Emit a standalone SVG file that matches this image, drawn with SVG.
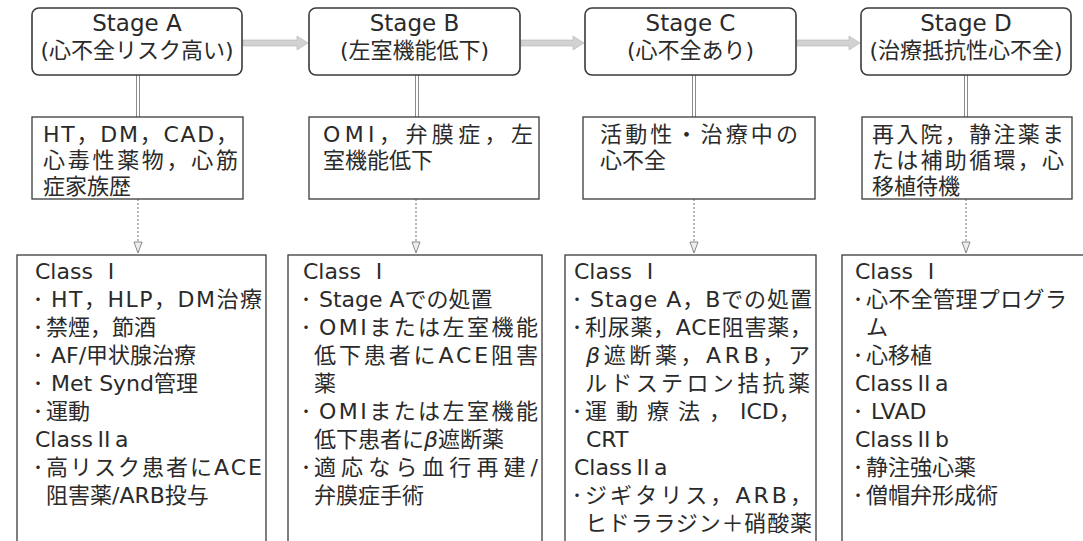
<svg xmlns="http://www.w3.org/2000/svg" width="1083" height="541" viewBox="0 0 1083 541">
<style>
.stage{fill:#fff;stroke:#3a3a3a;stroke-width:1.6}
.box{fill:#fff;stroke:#3a3a3a;stroke-width:1.3}
text{font-family:'DejaVu Sans','Noto Sans CJK JP',sans-serif;fill:#2a2a2a}
.t1{font-size:23px;text-anchor:middle}
.t2{font-size:22px;text-anchor:middle}
.m{font-size:22px}
.b{font-size:22px}
.d{font-size:16px;font-family:'Noto Sans CJK JP',sans-serif}
.j{font-family:'Noto Sans CJK JP',sans-serif}
.it{font-style:italic}
.harrow{fill:#d2d2d2;stroke:#b4b4b4;stroke-width:0.6}
.dbl{stroke:#8a8a8a;stroke-width:1;fill:none}
.dash{stroke:#8a8a8a;stroke-width:1.2;stroke-dasharray:2 2;fill:none}
.head{fill:#eee;stroke:#888;stroke-width:1}
</style>
<rect x="0" y="0" width="1083" height="541" fill="#fff"/>

<g id="connectors">
  <polygon class="harrow" points="243,40 297,40 297,36 308,43 297,50 297,46 243,46"/>
  <polygon class="harrow" points="521,40 573,40 573,36 584,43 573,50 573,46 521,46"/>
  <polygon class="harrow" points="797,40 849,40 849,36 860,43 849,50 849,46 797,46"/>
  <path class="dbl" d="M136.5,75 V117 M139.5,75 V117"/>
  <path class="dbl" d="M415.5,75 V117 M418.5,75 V117"/>
  <path class="dbl" d="M692.5,75 V117 M695.5,75 V117"/>
  <path class="dbl" d="M964.5,75 V117 M967.5,75 V117"/>
  <path class="dash" d="M138,199 V243"/>
  <path class="dash" d="M416,199 V243"/>
  <path class="dash" d="M694,199 V243"/>
  <path class="dash" d="M966,199 V243"/>
  <polygon class="head" points="134,242 142,242 138,253"/>
  <polygon class="head" points="412,242 420,242 416,253"/>
  <polygon class="head" points="690,242 698,242 694,253"/>
  <polygon class="head" points="962,242 970,242 966,253"/>
</g>

<g id="stageA">
  <rect class="stage" x="32" y="8" width="210" height="67" rx="7"/>
  <text class="t1" x="137" y="31">Stage A</text>
  <text class="t2" x="137" y="58">(心不全リスク高い)</text>
</g>
<g id="stageB">
  <rect class="stage" x="309" y="8" width="211" height="67" rx="7"/>
  <text class="t1" x="414.5" y="31">Stage B</text>
  <text class="t2" x="414.5" y="58">(左室機能低下)</text>
</g>
<g id="stageC">
  <rect class="stage" x="585" y="8" width="211" height="67" rx="7"/>
  <text class="t1" x="690.5" y="31">Stage C</text>
  <text class="t2" x="690.5" y="58">(心不全あり)</text>
</g>
<g id="stageD">
  <rect class="stage" x="861" y="8" width="210" height="67" rx="7"/>
  <text class="t1" x="966" y="31">Stage D</text>
  <text class="t2" x="966" y="58">(治療抵抗性心不全)</text>
</g>

<g id="condA">
  <rect class="box" x="32" y="117" width="211" height="82"/>
  <text class="m" x="43" y="142" textLength="195" lengthAdjust="spacing">HT，DM，CAD，</text>
  <text class="m" x="43" y="168" textLength="195" lengthAdjust="spacing">心毒性薬物，心筋</text>
  <text class="m" x="43" y="194">症家族歴</text>
</g>
<g id="condB">
  <rect class="box" x="309" y="117" width="230" height="82"/>
  <text class="m" x="323" y="142" textLength="210" lengthAdjust="spacing">OMI，弁膜症，左</text>
  <text class="m" x="323" y="168">室機能低下</text>
</g>
<g id="condC">
  <rect class="box" x="583" y="117" width="232" height="82"/>
  <text class="m" x="600" y="142" textLength="198" lengthAdjust="spacing">活動性・治療中の</text>
  <text class="m" x="600" y="168">心不全</text>
</g>
<g id="condD">
  <rect class="box" x="862" y="117" width="210" height="82"/>
  <text class="m" x="872" y="142" textLength="192" lengthAdjust="spacing">再入院，静注薬ま</text>
  <text class="m" x="872" y="168" textLength="192" lengthAdjust="spacing">たは補助循環，心</text>
  <text class="m" x="872" y="194">移植待機</text>
</g>

<g id="therA">
  <rect class="box" x="17" y="255" width="249" height="300"/>
  <text class="b" x="35" y="279">Class <tspan class="j">Ⅰ</tspan></text>
  <text class="d" x="30" y="305">・</text>
  <text class="b" x="51" y="307" textLength="211" lengthAdjust="spacing">HT，HLP，DM治療</text>
  <text class="d" x="30" y="333">・</text>
  <text class="b" x="46" y="335">禁煙，節酒</text>
  <text class="d" x="30" y="361">・</text>
  <text class="b" x="51" y="363">AF/甲状腺治療</text>
  <text class="d" x="30" y="389">・</text>
  <text class="b" x="51" y="391">Met Synd管理</text>
  <text class="d" x="30" y="417">・</text>
  <text class="b" x="46" y="419">運動</text>
  <text class="b" x="35" y="447">Class<tspan class="j">Ⅱ</tspan>a</text>
  <text class="d" x="30" y="473">・</text>
  <text class="b" x="46" y="475" textLength="216" lengthAdjust="spacing">高リスク患者にACE</text>
  <text class="b" x="46" y="503">阻害薬/ARB投与</text>
</g>
<g id="therB">
  <rect class="box" x="288" y="255" width="254" height="300"/>
  <text class="b" x="303" y="279">Class <tspan class="j">Ⅰ</tspan></text>
  <text class="d" x="298" y="305">・</text>
  <text class="b" x="319" y="307">Stage Aでの処置</text>
  <text class="d" x="298" y="333">・</text>
  <text class="b" x="319" y="335" textLength="219" lengthAdjust="spacing">OMIまたは左室機能</text>
  <text class="b" x="314" y="363" textLength="224" lengthAdjust="spacing">低下患者にACE阻害</text>
  <text class="b" x="314" y="391">薬</text>
  <text class="d" x="298" y="417">・</text>
  <text class="b" x="319" y="419" textLength="219" lengthAdjust="spacing">OMIまたは左室機能</text>
  <text class="b" x="314" y="447">低下患者に<tspan class="it">β</tspan>遮断薬</text>
  <text class="d" x="298" y="473">・</text>
  <text class="b" x="314" y="475" textLength="224" lengthAdjust="spacing">適応なら血行再建/</text>
  <text class="b" x="314" y="503">弁膜症手術</text>
</g>
<g id="therC">
  <rect class="box" x="565" y="255" width="251" height="300"/>
  <text class="b" x="574" y="279">Class <tspan class="j">Ⅰ</tspan></text>
  <text class="d" x="569" y="305">・</text>
  <text class="b" x="590" y="307" textLength="222" lengthAdjust="spacing">Stage A，Bでの処置</text>
  <text class="d" x="569" y="333">・</text>
  <text class="b" x="585" y="335" textLength="227" lengthAdjust="spacing">利尿薬，ACE阻害薬，</text>
  <text class="b" x="586" y="363" textLength="224" lengthAdjust="spacing"><tspan class="it">β</tspan>遮断薬，ARB，ア</text>
  <text class="b" x="585" y="391" textLength="225" lengthAdjust="spacing">ルドステロン拮抗薬</text>
  <text class="d" x="569" y="417">・</text>
  <text class="b" y="419"><tspan x="585" letter-spacing="9">運動療法，</tspan><tspan x="740">ICD，</tspan></text>
  <text class="b" x="586" y="447">CRT</text>
  <text class="b" x="574" y="475">Class<tspan class="j">Ⅱ</tspan>a</text>
  <text class="d" x="569" y="501">・</text>
  <text class="b" x="585" y="503" textLength="227" lengthAdjust="spacing">ジギタリス，ARB，</text>
  <text class="b" x="585" y="531" textLength="227" lengthAdjust="spacing">ヒドララジン＋硝酸薬</text>
</g>
<g id="therD">
  <rect class="box" x="842" y="255" width="260" height="300"/>
  <text class="b" x="855" y="279">Class <tspan class="j">Ⅰ</tspan></text>
  <text class="d" x="850" y="305">・</text>
  <text class="b" x="866" y="307" textLength="201" lengthAdjust="spacing">心不全管理プログラ</text>
  <text class="b" x="866" y="335">ム</text>
  <text class="d" x="850" y="361">・</text>
  <text class="b" x="866" y="363">心移植</text>
  <text class="b" x="855" y="391">Class<tspan class="j">Ⅱ</tspan>a</text>
  <text class="d" x="850" y="417">・</text>
  <text class="b" x="871" y="419">LVAD</text>
  <text class="b" x="855" y="447">Class<tspan class="j">Ⅱ</tspan>b</text>
  <text class="d" x="850" y="473">・</text>
  <text class="b" x="866" y="475">静注強心薬</text>
  <text class="d" x="850" y="501">・</text>
  <text class="b" x="866" y="503">僧帽弁形成術</text>
</g>
</svg>
